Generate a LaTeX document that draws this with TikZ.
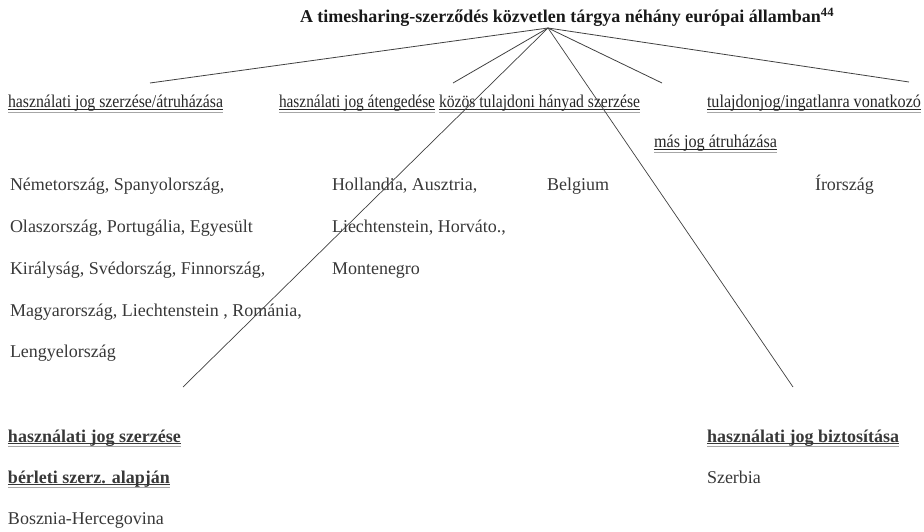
\documentclass[tikz,border=0pt]{standalone}
\usepackage{fontspec}
\setmainfont{Liberation Serif}
\usepackage{graphicx}
\definecolor{txt}{HTML}{383838}
\definecolor{ln}{HTML}{404040}
\newsavebox\ulbox
\newcommand\ulbx[1]{\sbox\ulbox{#1}\usebox\ulbox\kern-\wd\ulbox\rule[-2.4pt]{\wd\ulbox}{1.1pt}\kern-\wd\ulbox\textcolor{black!35}{\rule[-4.8pt]{\wd\ulbox}{0.9pt}}}
\newcommand\cnd[2]{\ulbx{\resizebox{#1pt}{\height}{#2}}}
\begin{document}
\begin{tikzpicture}[x=1pt,y=-1pt,
  every node/.style={inner sep=0pt, outer sep=0pt, text=txt, anchor=base west,
    font=\fontsize{18}{18}\selectfont},
  boldlabel/.style={font=\fontsize{18}{18}\selectfont\bfseries},
  catlabel/.style={text=black!85},
  conn/.style={draw=ln, line width=0.8pt},
  longconn/.style={draw=ln, line width=0.7pt}]
\useasboundingbox (0,0) rectangle (924,532);

% title
\node[boldlabel, text=black!90] (title) at (300,23)
  {A timesharing-szerződés közvetlen tárgya néhány európai államban\textsuperscript{44}};
\coordinate (apex) at (548,28);

% category labels
\node[catlabel] (cat1) at (8,108) {\cnd{215}{használati jog szerzése/átruházása}};
\node[catlabel] (cat2) at (279,108) {\cnd{156}{használati jog átengedése}};
\node[catlabel] (cat3) at (439,108) {\cnd{201}{közös tulajdoni hányad szerzése}};
\node[catlabel] (cat4) at (707,108) {\cnd{214}{tulajdonjog/ingatlanra vonatkozó}};
\node[catlabel] (cat4b) at (654,148) {\cnd{123}{más jog átruházása}};

% connector ends
\coordinate (e1) at (150,83);
\coordinate (e2) at (453,83);
\coordinate (e3) at (662,83);
\coordinate (e4) at (909,82);
\coordinate (e5) at (183,387);
\coordinate (e6) at (793,387);

% countries column 1
\node (a1) at (10,190) {Németország, Spanyolország,};
\node (a2) at (10,232) {Olaszország, Portugália, Egyesült};
\node (a3) at (10,274) {Királyság, Svédország, Finnország,};
\node (a4) at (10,316) {Magyarország, Liechtenstein , Románia,};
\node (a5) at (10,357) {Lengyelország};

% countries column 2
\node (b1) at (332,190) {Hollandia, Ausztria,};
\node (b2) at (332,232) {Liechtenstein, Horváto.,};
\node (b3) at (332,274) {Montenegro};

\node (belg) at (547,190) {Belgium};
\node (irl) at (815,190) {Írország};

% bottom
\node[boldlabel] (bl1) at (8,442) {\ulbx{használati jog szerzése}};
\node[boldlabel] (bl2) at (8,483) {\ulbx{bérleti szerz. alapján}};
\node (bl3) at (8,524) {Bosznia-Hercegovina};
\node[boldlabel] (br1) at (707,442) {\ulbx{használati jog biztosítása}};
\node (br2) at (707,483) {Szerbia};

% connectors
\draw[conn] (apex) -- (e1);
\draw[conn] (apex) -- (e2);
\draw[conn] (apex) -- (e3);
\draw[conn] (apex) -- (e4);
\draw[longconn] (apex) -- (e5);
\draw[longconn] (apex) -- (e6);
\end{tikzpicture}
\end{document}
